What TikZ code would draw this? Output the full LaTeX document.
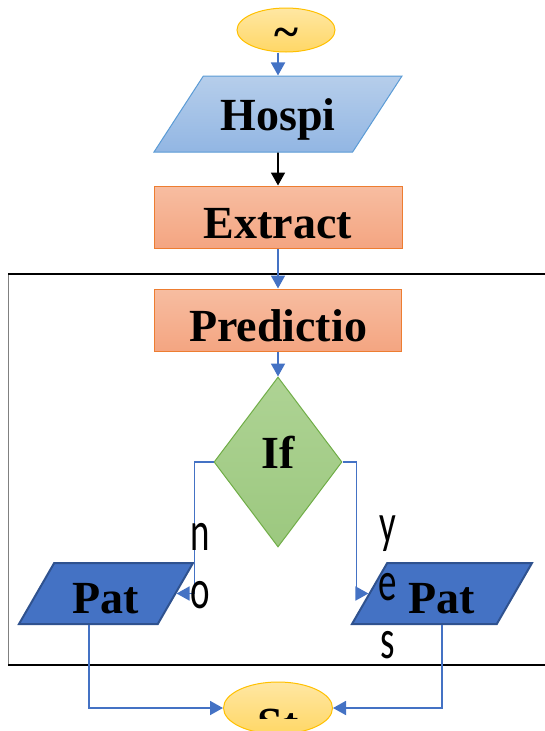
\documentclass[tikz,border=0pt]{standalone}
\usepackage{fontspec}
\setmainfont{Liberation Serif}
\newfontfamily\lblfont{Carlito}
\usetikzlibrary{shapes.geometric,arrows.meta,positioning}

\definecolor{termline}{HTML}{FFC000}
\definecolor{termtop}{HTML}{FFE7A3}
\definecolor{termbot}{HTML}{FFD766}
\definecolor{dataline}{HTML}{5B9BD5}
\definecolor{datatop}{HTML}{B6CEEB}
\definecolor{databot}{HTML}{92B6E3}
\definecolor{procline}{HTML}{ED7D31}
\definecolor{proctop}{HTML}{F7BDA1}
\definecolor{procbot}{HTML}{F4A581}
\definecolor{decline}{HTML}{70AD47}
\definecolor{dectop}{HTML}{AED394}
\definecolor{decbot}{HTML}{9CC87F}
\definecolor{patfill}{HTML}{4472C4}
\definecolor{patline}{HTML}{2F528F}
\definecolor{flowblue}{HTML}{4472C4}

\newcommand{\boxfont}{\fontsize{46}{48}\selectfont\bfseries}
\newcommand{\narrow}[1]{\scalebox{.66}[1]{#1}}
% baseline of a box text, measured down from the node centre
\newcommand{\downby}[2]{\raisebox{-#1}[0pt][0pt]{#2}}

\tikzset{
  term/.style={ellipse, draw=termline, line width=1pt, top color=termtop, bottom color=termbot, inner sep=0pt, font=\boxfont},
  inbox/.style={trapezium, trapezium left angle=57, trapezium right angle=123, trapezium stretches body,
                text height=54pt, text depth=22pt,
                draw=dataline, line width=1pt, top color=datatop, bottom color=databot, inner sep=0pt, font=\boxfont},
  procbox/.style={rectangle, draw=procline, line width=1pt, top color=proctop, bottom color=procbot, inner sep=0pt, font=\boxfont},
  decbox/.style={diamond, draw=decline, line width=1pt, top color=dectop, bottom color=decbot, inner sep=0pt, font=\boxfont},
  patbox/.style={trapezium, trapezium left angle=60, trapezium right angle=120, trapezium stretches body,
                 text height=50.5pt, text depth=10.5pt,
                 draw=patline, line width=2pt, fill=patfill, inner sep=0pt, font=\boxfont},
  lbl/.style={font=\lblfont\fontsize{56}{58}\selectfont, align=center, inner sep=0pt},
  flow/.style={draw=flowblue, line width=1.8pt, -{Triangle[length=13pt,width=14pt]}}
}

\begin{document}
\begin{tikzpicture}[x=1pt,y=-1pt]
  \useasboundingbox (0,0) rectangle (545,731);
  \clip (0,0) rectangle (545,731);

  % frame round the prediction part
  \draw[gray, line width=0.8pt] (8,274) -- (8,665);
  \draw[black, line width=1.2pt] (8,274) -- (545,274);
  \draw[black, line width=1.6pt] (8,665) -- (545,665);

  \node[term, minimum width=98pt, minimum height=44pt] (start) at (286,30) {\downby{17pt}{\textasciitilde}};
  \node[inbox, minimum width=248pt] (hosp) at (278,114) {Hospi};
  \node[procbox, minimum width=248pt, minimum height=62pt] (extr) at (278,217) {\downby{21pt}{Extract}};
  \node[procbox, minimum width=247pt, minimum height=62pt] (pred) at (278,320) {\downby{21pt}{Predictio}};
  \node[decbox, minimum width=128pt, minimum height=170pt] (ifd) at (278,462) {\downby{6pt}{If}};
  \node[patbox, minimum width=174pt] (patno) at (106,593.5) {Pat};
  \node[patbox, minimum width=180pt] (patyes) at (442,593.5) {Pat};
  \node[term, minimum width=109pt, minimum height=52pt,
        path picture={
          \clip (path picture bounding box.north west) rectangle ([yshift=-10pt]path picture bounding box.east);
          \node[draw=none, fill=none, font=\boxfont] at ([yshift=-16pt]path picture bounding box.center) {St};
        }] (stop) at (278,708) {};

  \draw[flow] (hosp.north |- start.south) -- (hosp.north);
  \draw[flow, draw=black] (hosp.south) -- (extr.north);
  \draw[flow] (extr.south) -- (pred.north);
  \draw[flow] (pred.south) -- (ifd.north);
  \draw[flow] (ifd.west) -- ++(-19,0) |- (patno.east);
  \draw[flow] (ifd.east) -- ++(14,0) |- (patyes.west);
  \draw[flow] ([xshift=-17pt]patno.south) |- (stop.west);
  \draw[flow] (patyes.south) |- (stop.east);

  \node[lbl] (nolbl) at (200,566) {\narrow{n}\\\narrow{o}};
  \node[lbl] (yeslbl) at (388,587) {\narrow{y}\\\narrow{e}\\\narrow{s}};
\end{tikzpicture}
\end{document}
